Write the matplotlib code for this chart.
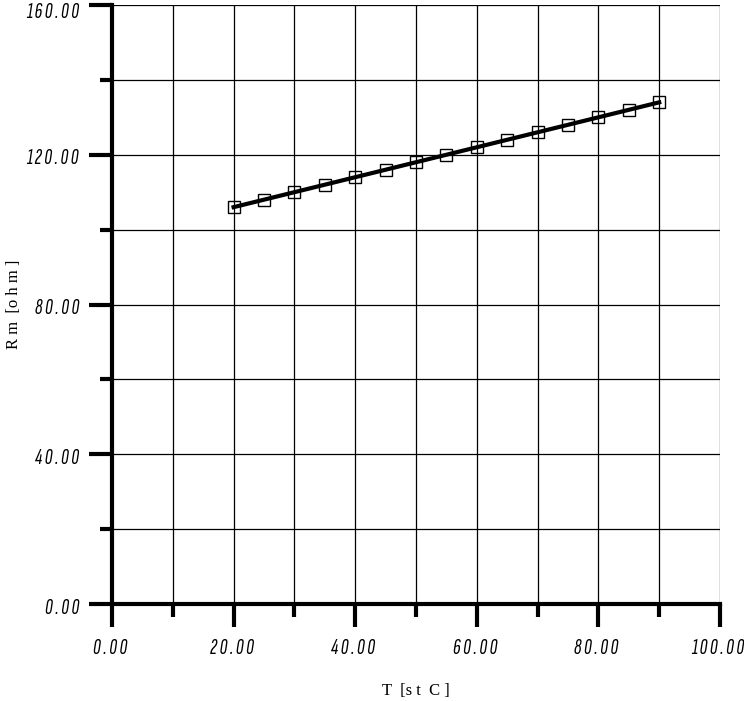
import matplotlib
matplotlib.use("Agg")
import matplotlib.pyplot as plt
import matplotlib.transforms as mtransforms
from matplotlib.ticker import MultipleLocator, FixedLocator

temps = [20, 25, 30, 35, 40, 45, 50, 55, 60, 65, 70, 75, 80, 85, 90]
resist = [106, 108, 110, 112, 114, 116, 118, 120, 122, 124, 126, 128, 130, 132, 134]
x_major = [0, 20, 40, 60, 80, 100]
y_major = [0, 40, 80, 120, 160]
x_label = "T [st C]"
y_label = "Rm [ohm]"

tick_font = ["Sofia Sans Extra Condensed", "Roboto Condensed", "Liberation Sans", "DejaVu Sans"]
label_font = ["Liberation Serif", "DejaVu Serif"]

def spaced(s):
    return " ".join(list(s))

fig = plt.figure(figsize=(7.44, 7.01), dpi=100)
ax = fig.add_axes([112/744, 1-604/701, (720-112)/744, (604-5)/701])

ax.plot(temps, resist, color="black", lw=3.0, marker="s", ms=8,
        mfc="none", mec="black", mew=1.0, zorder=3, clip_on=False)

ax.set_xlim(0, 100)
ax.set_ylim(0, 160)

ax.xaxis.set_major_locator(FixedLocator(x_major))
ax.xaxis.set_minor_locator(MultipleLocator(10))
ax.yaxis.set_major_locator(FixedLocator(y_major))
ax.yaxis.set_minor_locator(MultipleLocator(20))

ax.set_xticklabels([spaced(f"{v:.2f}") for v in x_major],
                   family=tick_font, fontstyle="italic", fontsize=15.5)
ax.set_yticklabels([spaced(f"{v:.2f}") for v in y_major],
                   family=tick_font, fontstyle="italic", fontsize=15.5)

ax.grid(True, which="both", color="black", lw=0.9)
ax.set_axisbelow(True)

for s in ["top", "right"]:
    ax.spines[s].set_visible(False)
for s in ["left", "bottom"]:
    ax.spines[s].set_linewidth(3.0)

ax.tick_params(which="major", direction="out", length=16.5, width=3.0, pad=7.5)
ax.tick_params(which="minor", direction="out", length=9, width=3.0)
ax.tick_params(axis="x", which="major", pad=9)

# nudge y tick labels slightly downward as in the reference; top one more
ylabels = ax.get_yticklabels()
for i, lab in enumerate(ylabels):
    dy = -5 if i == len(ylabels) - 1 else -2
    lab.set_transform(lab.get_transform() +
                      mtransforms.ScaledTranslation(0, dy / 100, fig.dpi_scale_trans))
for lab in ax.get_xticklabels():
    lab.set_transform(lab.get_transform() +
                      mtransforms.ScaledTranslation(-2 / 100, 0, fig.dpi_scale_trans))

ax.set_xlabel("T  [s t  C ]", family=label_font, fontsize=12, labelpad=18)
ax.set_ylabel("R m  [o h m ]", family=label_font, fontsize=12)
ax.yaxis.set_label_coords(-0.148, 0.5)

fig.savefig("out.png", dpi=100)
